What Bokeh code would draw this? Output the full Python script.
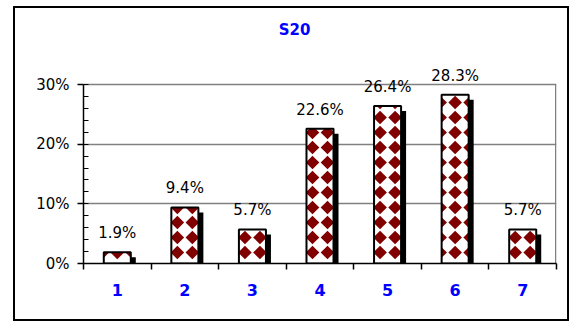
import numpy as np
from bokeh.plotting import figure
from bokeh.core.properties import value
from bokeh.models import ColumnDataSource, FixedTicker, LabelSet, Range1d
from bokeh.embed import file_html
from bokeh.resources import INLINE

# ---- data -------------------------------------------------------------
categories = ["1", "2", "3", "4", "5", "6", "7"]
shares = [1.9, 9.4, 5.7, 22.6, 26.4, 28.3, 5.7]          # percent
title_text = "S20"
y_ticks = [0, 10, 20, 30]
y_tick_labels = ["0%", "10%", "20%", "30%"]

# ---- layout (pixels) --------------------------------------------------
W, H = 556, 315
LEFT, RIGHT, BOTTOM = 68, 15, 60
HEAD = 76              # space between canvas top and the 30% line
PLOT_H = 179           # pixel height of the 0-30% band
FW = W - LEFT - RIGHT
Y_MAX = 30
N = len(categories)
PX_X = N / FW              # data units per pixel, x
PX_Y = Y_MAX / PLOT_H      # data units per pixel, y
Y_TOP = Y_MAX + HEAD * PX_Y

BAR_W = 0.4
SHADOW_PX = 5
MAROON = "#800000"
GRID = "#808080"
FONT = "DejaVu Sans"

xpos = np.arange(1, N + 1, dtype=float)
vals = np.array(shares, dtype=float)

p = figure(width=W, height=H, output_backend="svg", toolbar_location=None,
           x_range=Range1d(0.5, N + 0.5), y_range=Range1d(0, Y_TOP),
           min_border_left=LEFT, min_border_right=RIGHT,
           min_border_top=0, min_border_bottom=BOTTOM,
           margin=(6, 0, 0, 13))
p.styles = {"border": "2px solid black"}
p.background_fill_color = "white"
p.border_fill_color = "white"
p.outline_line_color = None

# ---- axes ---------------------------------------------------------------
xa = p.xaxis[0]
xa.ticker = FixedTicker(ticks=list(xpos), minor_ticks=[i + 0.5 for i in range(N + 1)])
xa.major_label_overrides = {int(v): c for v, c in zip(xpos, categories)}
xa.major_tick_out = 0
xa.major_tick_in = 0
xa.minor_tick_out = 6
xa.minor_tick_in = 0
xa.minor_tick_line_color = "black"
xa.minor_tick_line_width = 1.5
xa.axis_line_color = "black"
xa.axis_line_width = 1.5
xa.major_label_standoff = 14
xa.major_label_text_color = "#0000FF"
xa.major_label_text_font = FONT
xa.major_label_text_font_style = "bold"
xa.major_label_text_font_size = "16px"

ya = p.yaxis[0]
ya.bounds = (0, Y_MAX)
ya.ticker = FixedTicker(ticks=y_ticks, minor_ticks=list(range(0, Y_MAX + 1, 2)))
ya.major_label_overrides = dict(zip(y_ticks, y_tick_labels))
ya.major_tick_out = 6
ya.major_tick_in = 0
ya.minor_tick_out = 0
ya.minor_tick_in = 5
ya.major_tick_line_color = "black"
ya.minor_tick_line_color = "black"
ya.major_tick_line_width = 1.5
ya.minor_tick_line_width = 1.2
ya.axis_line_color = "black"
ya.axis_line_width = 1.5
ya.major_label_standoff = 8
ya.major_label_text_color = "black"
ya.major_label_text_font = FONT
ya.major_label_text_font_size = "15px"

p.xgrid.visible = False
p.ygrid.ticker = FixedTicker(ticks=y_ticks)
p.ygrid.grid_line_color = GRID
p.ygrid.grid_line_width = 1.5

# right edge of the plot box
edge_x = N + 0.5 - 0.75 * PX_X
p.segment(x0=[edge_x], y0=[0], x1=[edge_x], y1=[Y_MAX],
          line_color=GRID, line_width=1.5)

# ---- bars ---------------------------------------------------------------
src = ColumnDataSource(dict(
    x=xpos, top=vals,
    sx=xpos + SHADOW_PX * PX_X, stop=vals - SHADOW_PX * PX_Y,
    label=[f"{v:.1f}%" for v in vals],
))

# drop shadow
p.vbar(x="sx", top="stop", bottom=0, width=BAR_W, source=src,
       fill_color="black", line_color=None)
# white face
p.vbar(x="x", top="top", bottom=0, width=BAR_W, source=src,
       fill_color="white", line_color=None)


def _cut(a, b, axis, bound):
    t = (bound - a[axis]) / (b[axis] - a[axis])
    if axis == 0:
        return (bound, a[1] + t * (b[1] - a[1]))
    return (a[0] + t * (b[0] - a[0]), bound)


def clip_polygon(pts, x0, x1, y0, y1):
    edges = [
        (lambda q: q[0] >= x0, 0, x0),
        (lambda q: q[0] <= x1, 0, x1),
        (lambda q: q[1] >= y0, 1, y0),
        (lambda q: q[1] <= y1, 1, y1),
    ]
    for inside, axis, bound in edges:
        out = []
        for i in range(len(pts)):
            cur, prev = pts[i], pts[i - 1]
            if inside(cur):
                if not inside(prev):
                    out.append(_cut(prev, cur, axis, bound))
                out.append(cur)
            elif inside(prev):
                out.append(_cut(prev, cur, axis, bound))
        pts = out
        if not pts:
            break
    return pts


# diamond texture, clipped to each bar face
TEX_PERIOD = 15      # px
TEX_HALF = 6.8       # px, half diagonal of a diamond
TEX_ROW0 = 11        # px above the baseline
tex_phase = [0, 0.5, 0.5, 0.5, 0.5, 0, 0.5]

dxs, dys = [], []
for cx, top, ph in zip(xpos, vals, tex_phase):
    x0, x1 = cx - BAR_W / 2, cx + BAR_W / 2
    hx, hy = TEX_HALF * PX_X, TEX_HALF * PX_Y
    nrows = int(top / (TEX_PERIOD * PX_Y)) + 2
    for k in range(-3, 4):
        dcx = cx + (k + ph) * TEX_PERIOD * PX_X
        for r in range(nrows):
            dcy = (TEX_ROW0 + r * TEX_PERIOD) * PX_Y
            diamond = [(dcx - hx, dcy), (dcx, dcy + hy), (dcx + hx, dcy), (dcx, dcy - hy)]
            poly = clip_polygon(diamond, x0, x1, 0, top)
            if len(poly) >= 3:
                dxs.append([q[0] for q in poly])
                dys.append([q[1] for q in poly])

p.patches(dxs, dys, fill_color=MAROON, line_color=None)

# bar outline
p.vbar(x="x", top="top", bottom=0, width=BAR_W, source=src,
       fill_color=None, line_color="black", line_width=2)

# value labels
p.add_layout(LabelSet(x="x", y="top", text="label", source=src,
                      y_offset=14, text_align="center", text_baseline="alphabetic",
                      text_font=value(FONT), text_font_size=value("15px"),
                      text_color="black"))

# chart title
TITLE_PX = (279, 21)   # canvas position of the title baseline centre
p.text(x=[0.5 + (TITLE_PX[0] - LEFT) * PX_X], y=[Y_TOP - TITLE_PX[1] * PX_Y],
       text=[title_text], text_align="center", text_baseline="alphabetic",
       text_font=value(FONT), text_font_style="bold", text_font_size="15px",
       text_color="#0000FF")

open("out.html", "w").write(file_html(p, INLINE))
